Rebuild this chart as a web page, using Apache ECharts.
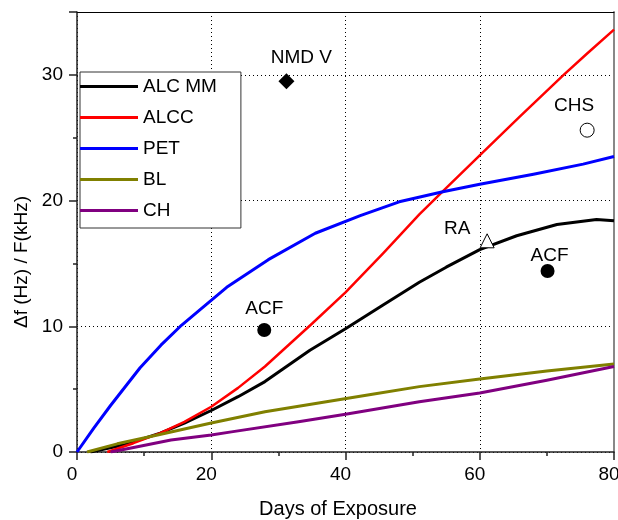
<!DOCTYPE html>
<html>
<head>
<meta charset="utf-8">
<script src="https://cdn.jsdelivr.net/npm/echarts@6/dist/echarts.min.js"></script>
<style>
  html, body { margin: 0; padding: 0; background: #fff; }
  #chart { width: 618px; height: 520px; }
</style>
</head>
<body>
<div id="chart"></div>
<script>
// curves, [days, df/F]
var alcMM = [[2,0],[6.9,0.55],[12.4,1.5],[16,2.3],[20,3.3],[24,4.4],[28,5.6],[34.7,8.1],[40,9.8],[45.6,11.7],[51,13.5],[55,14.7],[60,16.1],[65.5,17.2],[71.5,18.1],[77.4,18.5],[80,18.4]];
var alcc = [[4.5,0],[8.4,0.7],[12.4,1.5],[16,2.4],[20,3.6],[24,5.1],[28,6.8],[35,10.2],[40,12.7],[45.6,15.8],[51,18.9],[54.6,20.8],[60,23.6],[66,26.7],[72.5,30.0],[76,31.7],[80,33.6]];
var pet = [[0,0],[2.5,1.9],[5,3.7],[9.4,6.7],[12.5,8.5],[15.6,10.1],[18.3,11.3],[22.3,13.1],[28.5,15.3],[35.5,17.4],[42.2,18.8],[48,19.9],[54.5,20.7],[60,21.3],[68,22.1],[75.4,22.9],[80,23.5]];
var bl = [[1.5,0],[6,0.65],[12,1.35],[20,2.3],[28,3.2],[36,3.9],[44,4.6],[51,5.2],[60,5.8],[70,6.45],[80,7.0]];
var ch = [[5,0],[9,0.42],[14,0.95],[20,1.35],[23,1.6],[33,2.4],[40,3.0],[51,4.0],[60,4.7],[70,5.7],[80,6.8]];

var curveNames = ['ALC MM', 'ALCC', 'PET', 'BL', 'CH'];

// single measurements
var nmdV = [[31.2, 29.5]];
var acf1 = [[27.9, 9.7]];
var acf2 = [[70.1, 14.4]];
var ra = [[61.1, 16.8]];
var chs = [[76, 25.6]];

var font = 'Liberation Sans, Arial, sans-serif';
var myChart = echarts.init(document.getElementById('chart'));

function curve(name, data, color, width) {
    return {
        name: name, type: 'line', data: data, smooth: false,
        showSymbol: false, symbol: 'none',
        lineStyle: {color: color, width: width, join: 'round'}, itemStyle: {color: color},
        xAxisIndex: 0, yAxisIndex: 0, z: 3
    };
}

function point(name, data, symbol, size, filled, offset) {
    return {
        name: name, type: 'scatter', data: data, symbol: symbol, symbolSize: size,
        itemStyle: filled ? {color: '#000', opacity: 1}
                          : {color: '#fff', borderColor: '#000', borderWidth: 1, opacity: 1},
        label: {show: true, position: 'top', formatter: name, offset: offset,
                color: '#000', fontSize: 19, fontFamily: font},
        emphasis: {disabled: true},
        xAxisIndex: 0, yAxisIndex: 0, z: 5
    };
}

var dotted = {show: true, lineStyle: {color: '#000', type: [1, 3], width: 1}};

option = {
    animation: false,
    backgroundColor: '#fff',
    grid: {left: 77, right: 4, top: 12, bottom: 68, outerBoundsMode: 'none'},
    legend: {
        data: curveNames,
        orient: 'vertical', left: 80, top: 72,
        icon: 'rect', itemWidth: 58, itemHeight: 3, itemGap: 12,
        padding: [5, 24, 8, 0],
        borderColor: '#333', borderWidth: 1, backgroundColor: '#fff',
        textStyle: {color: '#000', fontSize: 19, fontFamily: font}
    },
    xAxis: [{
        type: 'value', min: 0, max: 80, interval: 20,
        name: 'Days of Exposure', nameLocation: 'middle', nameGap: 47,
        nameTextStyle: {color: '#000', fontSize: 20, fontFamily: font, padding: [0, 15, 0, 0]},
        axisLine: {lineStyle: {color: '#222', width: 1.5}},
        axisTick: {inside: false, length: 8, lineStyle: {color: '#222', width: 1.5}},
        minorTick: {show: true, splitNumber: 2, length: 4, lineStyle: {color: '#222', width: 1.5}},
        axisLabel: {color: '#000', fontSize: 19, fontFamily: font, margin: 13, padding: [0, 10, 0, 0]},
        splitLine: dotted
    }, {
        type: 'value', min: 0, max: 80, position: 'top',
        axisLine: {show: true, onZero: false, lineStyle: {color: '#000', width: 1}},
        axisTick: {show: false}, axisLabel: {show: false}, splitLine: {show: false}
    }],
    yAxis: [{
        type: 'value', min: 0, max: 35, interval: 10,
        name: 'Δf (Hz) / F(kHz)', nameLocation: 'middle', nameGap: 41,
        nameTextStyle: {color: '#000', fontSize: 19, fontFamily: font, padding: [0, 60, 0, 0]},
        axisLine: {show: true, lineStyle: {color: '#222', width: 1.5}},
        axisTick: {show: true, inside: false, length: 8, lineStyle: {color: '#222', width: 1.5}},
        minorTick: {show: true, splitNumber: 2, length: 4, lineStyle: {color: '#222', width: 1.5}},
        axisLabel: {color: '#000', fontSize: 19, fontFamily: font, margin: 14, showMaxLabel: false},
        splitLine: dotted
    }, {
        type: 'value', min: 0, max: 35, position: 'right',
        axisLine: {show: true, onZero: false, lineStyle: {color: '#888', width: 2}},
        axisTick: {show: false}, axisLabel: {show: false}, splitLine: {show: false}
    }],
    series: [
        curve('ALC MM', alcMM, '#000000', 3),
        curve('ALCC', alcc, '#ff0000', 2.5),
        curve('PET', pet, '#0000ff', 3),
        curve('BL', bl, '#808000', 3),
        curve('CH', ch, '#800080', 3),
        point('NMD V', nmdV, 'diamond', 16, true, [15, -0.5]),
        point('ACF', acf1, 'circle', 14, true, [0, 0]),
        point('ACF', acf2, 'circle', 14, true, [2, 6.5]),
        point('RA', ra, 'triangle', 14, false, [-30, 9.5]),
        point('CHS', chs, 'circle', 14, false, [-13, -2.5])
    ]
};

myChart.setOption(option);
</script>
</body>
</html>
